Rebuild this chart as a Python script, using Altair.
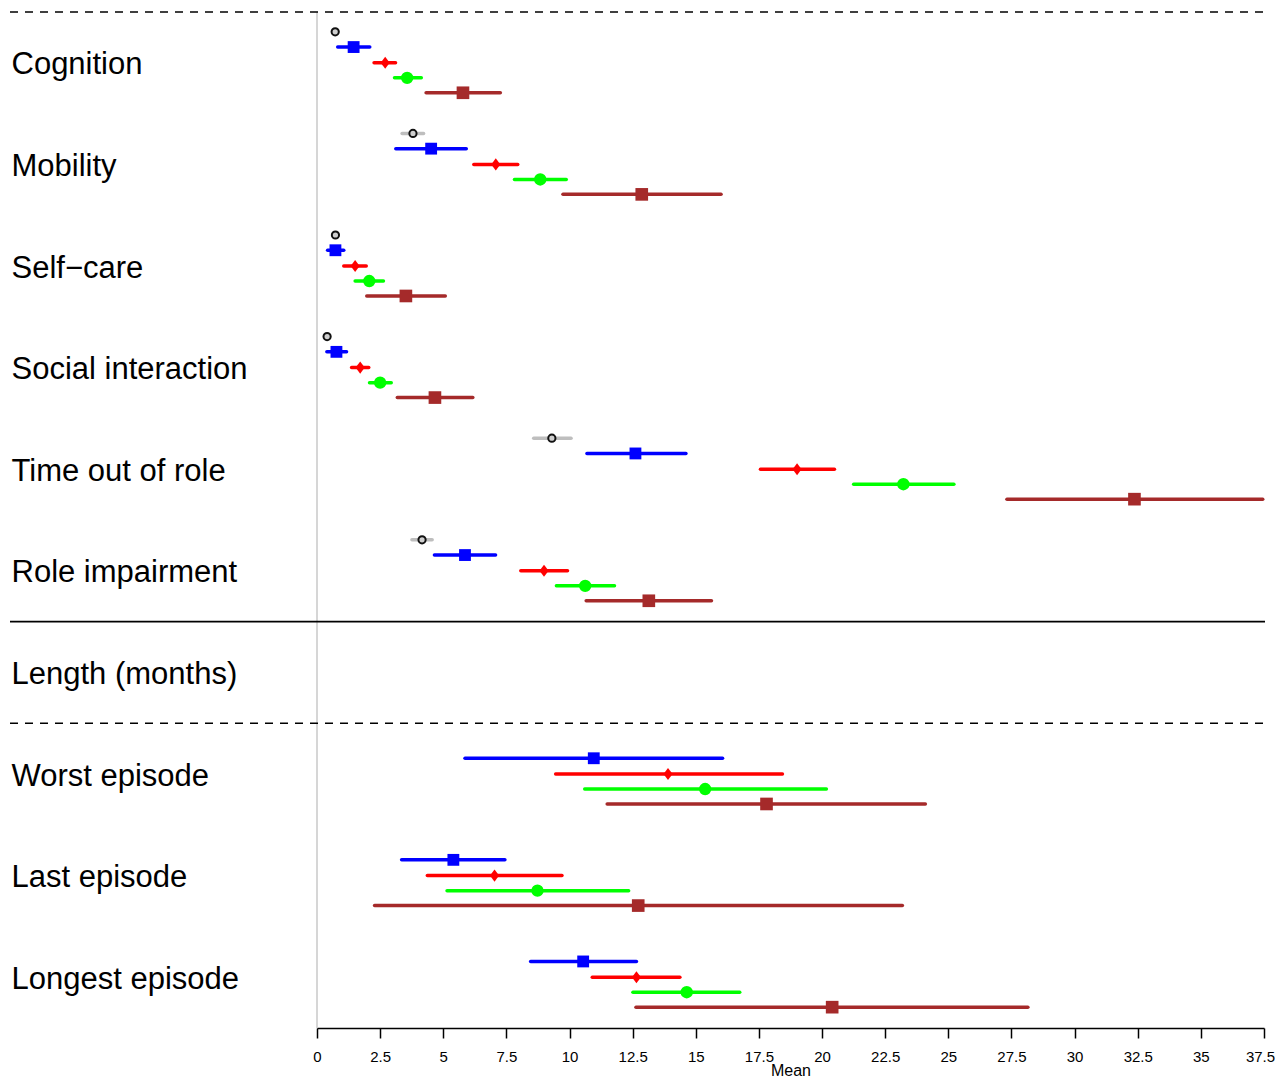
import altair as alt
import pandas as pd

categories = ["Cognition", "Mobility", "Self\u2212care", "Social interaction",
              "Time out of role", "Role impairment", "Length (months)",
              "Worst episode", "Last episode", "Longest episode"]

series_names = ["grey", "blue", "red", "green", "brown"]
series_colors = ["#bebebe", "#0000ff", "#ff0000", "#00ff00", "#a52a2a"]

N = None
grey_mean = [0.72, 3.80, 0.73, 0.40, 9.30, 4.16, N, N, N, N]
grey_lo = [0.62, 3.37, 0.65, 0.33, 8.58, 3.76, N, N, N, N]
grey_hi = [0.82, 4.22, 0.81, 0.47, 10.06, 4.56, N, N, N, N]

blue_mean = [1.45, 4.52, 0.73, 0.77, 12.61, 5.86, N, 10.96, 5.40, 10.54]
blue_lo = [0.82, 3.12, 0.42, 0.39, 10.69, 4.65, N, 5.86, 3.35, 8.46]
blue_hi = [2.09, 5.91, 1.06, 1.17, 14.61, 7.07, N, 16.06, 7.44, 12.65]

red_mean = [2.70, 7.08, 1.51, 1.71, 19.01, 8.99, N, 13.90, 7.03, 12.65]
red_lo = [2.26, 6.21, 1.06, 1.37, 17.56, 8.07, N, 9.45, 4.37, 10.90]
red_hi = [3.11, 7.95, 1.95, 2.05, 20.49, 9.92, N, 18.43, 9.70, 14.37]

green_mean = [3.57, 8.84, 2.07, 2.50, 23.22, 10.62, N, 15.37, 8.73, 14.64]
green_lo = [3.07, 7.82, 1.51, 2.08, 21.25, 9.48, N, 10.60, 5.15, 12.51]
green_hi = [4.13, 9.87, 2.63, 2.94, 25.22, 11.78, N, 20.17, 12.34, 16.74]

brown_mean = [5.78, 12.86, 3.52, 4.67, 32.37, 13.14, N, 17.80, 12.72, 20.40]
brown_lo = [4.32, 9.74, 1.97, 3.18, 27.32, 10.66, N, 11.49, 2.28, 12.63]
brown_hi = [7.26, 16.00, 5.08, 6.17, 37.45, 15.62, N, 24.09, 23.18, 28.15]

x_ticks = [0, 2.5, 5, 7.5, 10, 12.5, 15, 17.5, 20, 22.5, 25, 27.5, 30, 32.5, 35, 37.5]

# layout (row offsets within a category, in row units)
offsets = {"grey": -0.305, "blue": -0.155, "red": 0.0, "green": 0.148, "brown": 0.295}

all_series = {
    "grey": (grey_mean, grey_lo, grey_hi),
    "blue": (blue_mean, blue_lo, blue_hi),
    "red": (red_mean, red_lo, red_hi),
    "green": (green_mean, green_lo, green_hi),
    "brown": (brown_mean, brown_lo, brown_hi),
}

rows = []
for s, (m, lo, hi) in all_series.items():
    for i, cat in enumerate(categories):
        if m[i] is None:
            continue
        rows.append({"category": cat, "series": s, "mean": m[i], "lo": lo[i],
                     "hi": hi[i], "ypos": i + offsets[s]})
df = pd.DataFrame(rows)

W, H = 947, 1016
xscale = alt.Scale(domain=[0, 37.5], nice=False, zero=False)
yscale = alt.Scale(domain=[-0.5, 9.5], reverse=True, nice=False, zero=False)

label_expr = "[" + ",".join("'" + c + "'" for c in categories) + "][datum.value]"

color_scale = alt.Scale(domain=series_names, range=series_colors)

base = alt.Chart(df)

bars = base.mark_rule(strokeWidth=3.5, strokeCap="round").encode(
    x=alt.X("lo:Q", scale=xscale,
            axis=alt.Axis(values=x_ticks, labelExpr="'' + datum.value", title="Mean",
                          grid=False, domainColor="black", domainWidth=1.5,
                          tickColor="black", tickWidth=1.5, tickSize=10,
                          labelFont="Liberation Sans",
                          labelFontSize=15, labelColor="black",
                          labelPadding=11, labelFlush=False, labelOverlap=False,
                          labelBaseline="top",
                          labelOffset={"condition": {"test": "datum.value >= 37.5", "value": -4},
                                       "value": 0},
                          titleFont="Liberation Sans",
                          titleFontSize=16,
                          titleFontWeight="normal", titleColor="black", titlePadding=-2)),
    x2="hi:Q",
    y=alt.Y("ypos:Q", scale=yscale,
            axis=alt.Axis(values=list(range(len(categories))), labelExpr=label_expr,
                          title=None, grid=False, domain=False, ticks=False,
                          labelAlign="left", labelBaseline="middle", labelPadding=306,
                          labelOffset=2,
                          labelFont="Liberation Sans", labelFontSize=31, labelLimit=0,
                          labelColor="black", labelOverlap=False, labelFlush=False)),
    color=alt.Color("series:N", scale=color_scale, legend=None),
)

diamond = "M0,-1L0.75,0L0,1L-0.75,0Z"
main_pts = base.transform_filter(alt.datum.series != "grey").mark_point(
    filled=True, opacity=1).encode(
    x=alt.X("mean:Q", scale=xscale),
    y=alt.Y("ypos:Q", scale=yscale),
    color=alt.Color("series:N", scale=color_scale, legend=None),
    shape=alt.Shape("series:N", scale=alt.Scale(domain=["blue", "red", "green", "brown"],
                                                 range=["square", diamond, "circle", "square"]),
                    legend=None),
    size=alt.Size("series:N", scale=alt.Scale(domain=["blue", "red", "green", "brown"],
                                               range=[140, 160, 144, 150]),
                  legend=None),
)

grey_pts = base.transform_filter(alt.datum.series == "grey").mark_point(
    shape="circle", filled=False, fill="#cfcfcf", stroke="#111111", strokeWidth=2,
    size=52, opacity=1, fillOpacity=1).encode(
    x=alt.X("mean:Q", scale=xscale),
    y=alt.Y("ypos:Q", scale=yscale),
)

hlines = pd.DataFrame({"y": [-0.5, 5.5, 6.5], "kind": ["dash", "solid", "dash"]})
dash_rules = alt.Chart(hlines).transform_filter(alt.datum.kind == "dash").mark_rule(
    color="black", strokeWidth=1.5, strokeDash=[8, 7]).encode(
    y=alt.Y("y:Q", scale=yscale), x=alt.value(-307), x2=alt.value(W + 1))
solid_rules = alt.Chart(hlines).transform_filter(alt.datum.kind == "solid").mark_rule(
    color="black", strokeWidth=1.8).encode(
    y=alt.Y("y:Q", scale=yscale), x=alt.value(-307), x2=alt.value(W + 1))

vline = alt.Chart(pd.DataFrame({"x": [0]})).mark_rule(
    color="#c8c8c8", strokeWidth=1.5).encode(
    x=alt.X("x:Q", scale=xscale), y=alt.value(0), y2=alt.value(H))

chart = alt.layer(vline, dash_rules, solid_rules, bars, main_pts, grey_pts).properties(
    width=W, height=H,
    background="white",
    autosize=alt.AutoSizeParams(type="none"),
    padding={"left": 309, "top": 4, "right": 11, "bottom": 52},
).configure_view(strokeWidth=0)

chart.save("out.html", embed_options={"renderer": "svg", "actions": False})
